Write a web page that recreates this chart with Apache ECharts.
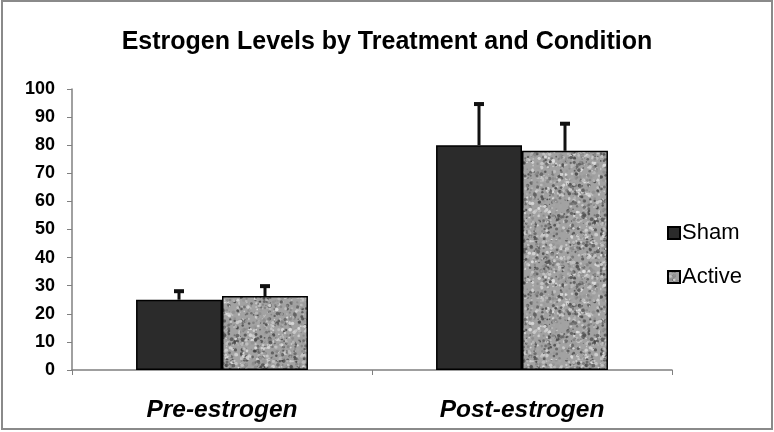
<!DOCTYPE html>
<html>
<head>
<meta charset="utf-8">
<script src="https://cdn.jsdelivr.net/npm/echarts@6/dist/echarts.min.js"></script>
<style>
html,body{margin:0;padding:0;background:#fff;}
#chart{width:774px;height:432px;}
</style>
</head>
<body>
<div id="chart"></div>
<script>
// ---- data ----
const categories = ['Pre-estrogen', 'Post-estrogen'];
const seriesNames = ['Sham', 'Active'];
const shamValues = [25, 80];
const activeValues = [26.3, 78];
const shamErrTop = [28.4, 95];
const activeErrTop = [30.2, 88];
const yTicks = [0, 10, 20, 30, 40, 50, 60, 70, 80, 90, 100];

// ---- speckled texture for "Active" ----
function makeTexture() {
  const c = document.createElement('canvas');
  c.width = 120; c.height = 120;
  const ctx = c.getContext('2d');
  ctx.fillStyle = '#a2a2a2';
  ctx.fillRect(0, 0, 120, 120);
  let s = 98765;
  function rnd() { s = (s * 1103515245 + 12345) & 0x7fffffff; return s / 0x7fffffff; }
  for (let i = 0; i < 2000; i++) {
    const x = rnd() * 120, y = rnd() * 120, r = 0.6 + rnd() * 1.3;
    const v = rnd();
    let g;
    if (v < 0.3) g = 60 + Math.floor(rnd() * 50);
    else if (v < 0.65) g = 185 + Math.floor(rnd() * 50);
    else g = 125 + Math.floor(rnd() * 45);
    ctx.fillStyle = 'rgba(' + g + ',' + g + ',' + g + ',0.8)';
    ctx.beginPath();
    ctx.arc(x, y, r, 0, Math.PI * 2);
    ctx.fill();
  }
  return c;
}
const texture = makeTexture();

const chart = echarts.init(document.getElementById('chart'));
const gapRatio = 0.427;
const FONT = 'Liberation Sans, Arial, sans-serif';

function errRender(sideSign) {
  return function (params, api) {
    const idx = api.value(0);
    const top = api.coord([idx, api.value(1)]);
    const base = api.coord([idx, api.value(2)]);
    const catW = api.size([1, 0])[0];
    const bw = catW * (1 - gapRatio) / 2;
    const x = Math.round(top[0] + sideSign * bw / 2);
    const style = { stroke: '#111', lineWidth: 3 };
    return {
      type: 'group',
      children: [
        { type: 'line', shape: { x1: x, y1: base[1], x2: x, y2: top[1] + 1 }, style: style },
        { type: 'rect', shape: { x: x - 5, y: top[1] - 1, width: 10, height: 4 }, style: { fill: '#111' } }
      ]
    };
  };
}

chart.setOption({
  animation: false,
  backgroundColor: '#fff',
  title: {
    text: 'Estrogen Levels by Treatment and Condition',
    left: 'center',
    top: 25,
    textStyle: { fontFamily: FONT, fontWeight: 'bold', fontSize: 25, color: '#000' }
  },
  legend: {
    orient: 'vertical',
    left: 662,
    top: 217,
    itemWidth: 12,
    itemHeight: 12,
    itemGap: 22,
    icon: 'rect',
    data: seriesNames,
    textStyle: { fontFamily: FONT, fontSize: 22, color: '#000', padding: [0, 0, 0, -3] }
  },
  grid: { left: 72, right: 102, top: 89, bottom: 62, containLabel: false },
  xAxis: {
    type: 'category',
    data: categories,
    axisLine: { lineStyle: { color: '#808080', width: 1.5 } },
    axisTick: { show: true, length: 5, lineStyle: { color: '#808080' } },
    axisLabel: {
      margin: 28,
      fontFamily: FONT,
      fontWeight: 'bold', fontStyle: 'italic', fontSize: 24.5, color: '#000'
    }
  },
  yAxis: {
    type: 'value',
    min: yTicks[0],
    max: yTicks[yTicks.length - 1],
    interval: 10,
    splitLine: { show: false },
    axisLine: { show: true, lineStyle: { color: '#808080', width: 1.5 } },
    axisTick: { show: true, length: 5, lineStyle: { color: '#808080' } },
    axisLabel: {
      margin: 17,
      fontFamily: FONT,
      fontWeight: 'bold', fontSize: 18, color: '#000'
    }
  },
  series: [
    {
      name: 'Sham', type: 'bar', data: shamValues,
      barGap: '0%', barCategoryGap: (gapRatio * 100) + '%',
      itemStyle: { color: '#2b2b2b', borderColor: '#000', borderWidth: 1.5 }
    },
    {
      name: 'Active', type: 'bar', data: activeValues,
      itemStyle: { color: { image: texture, repeat: 'repeat' }, borderColor: '#000', borderWidth: 1.5 }
    },
    {
      type: 'custom', name: 'ShamErr', silent: true, z: 3,
      renderItem: errRender(-1),
      data: shamErrTop.map((v, i) => [i, v, shamValues[i]])
    },
    {
      type: 'custom', name: 'ActiveErr', silent: true, z: 3,
      renderItem: errRender(1),
      data: activeErrTop.map((v, i) => [i, v, activeValues[i]])
    }
  ],
  graphic: [
    { type: 'rect', shape: { x: 2, y: 1, width: 770, height: 428 }, style: { fill: 'none', stroke: '#8a8a8a', lineWidth: 2 }, silent: true }
  ]
});
</script>
</body>
</html>
